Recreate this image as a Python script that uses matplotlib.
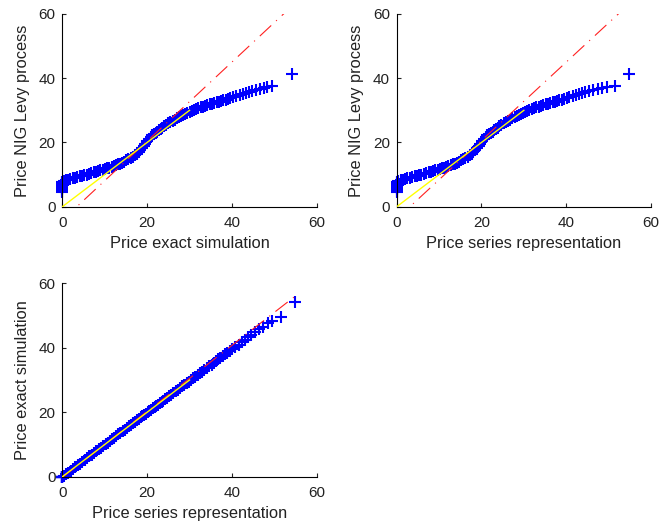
"""Q-Q plots of the simulated option prices: NIG Levy process vs exact simulation
vs series representation."""

import matplotlib

matplotlib.use("Agg")
import matplotlib.pyplot as plt

# sorted price quantiles of the three samples (same probability levels)
price_nig = [
    4.6, 5.0, 5.4, 5.9, 6.4, 6.9, 7.3, 7.7,
    8.0, 8.2, 8.4, 8.6, 8.8, 9.0, 9.2, 9.4, 9.6, 9.8, 10.0, 10.3, 10.5, 10.7, 10.9, 11.1, 11.3, 11.5,
    11.7, 11.9, 12.2, 12.4, 12.7, 12.9, 13.2, 13.4, 13.7, 14.0, 14.4, 14.7, 15.1, 15.5, 16.0, 16.5,
    17.0, 17.6, 18.2, 18.9, 19.6, 20.4, 21.1, 21.7, 22.2, 22.6, 23.0, 23.4, 23.8, 24.2, 24.6,
    25.0, 25.4, 25.9, 26.3, 26.7, 27.1, 27.5, 27.9, 28.3, 28.6, 28.9, 29.2,
    29.5, 29.8, 30.1, 30.4, 30.6, 30.9, 31.1, 31.4, 31.6, 31.9, 32.1, 32.3, 32.5, 32.7, 32.9, 33.1,
    33.3, 33.6, 33.8, 34.1,
    34.4, 34.7, 35.0, 35.3, 35.6, 35.9, 36.3, 36.6, 36.9, 37.2, 37.5, 41.2,
]
price_exact = [
    0.0, 0.0, 0.0, 0.0, 0.0, 0.0, 0.0, 0.0,
    0.3, 0.8, 1.3, 1.9, 2.4, 3.0, 3.5, 4.1, 4.6, 5.2, 5.7, 6.3, 6.8, 7.4, 7.9, 8.5, 9.0, 9.6,
    10.1, 10.6, 11.1, 11.6, 12.1, 12.6, 13.1, 13.6, 14.1, 14.6, 15.1, 15.6, 16.1, 16.6, 17.1, 17.6,
    18.0, 18.4, 18.8, 19.2, 19.6, 20.0, 20.4, 20.8, 21.2, 21.6, 22.0, 22.4, 22.8, 23.2, 23.6,
    24.0, 24.5, 25.0, 25.5, 26.0, 26.5, 27.0, 27.5, 28.0, 28.5, 29.0, 29.5,
    30.0, 30.5, 31.0, 31.6, 32.1, 32.6, 33.2, 33.7, 34.2, 34.8, 35.3, 35.8, 36.4, 36.9, 37.4, 38.0,
    38.5, 39.0, 39.6, 40.2,
    41.0, 41.8, 42.5, 43.2, 44.0, 44.8, 45.7, 46.6, 47.6, 48.3, 49.4, 54.2,
]
price_series = [
    0.0, 0.0, 0.0, 0.0, 0.0, 0.0, 0.0, 0.0,
    0.4, 0.9, 1.4, 2.0, 2.5, 3.1, 3.6, 4.2, 4.7, 5.3, 5.8, 6.4, 6.9, 7.5, 8.0, 8.6, 9.1, 9.7,
    10.2, 10.7, 11.2, 11.7, 12.2, 12.7, 13.2, 13.7, 14.2, 14.7, 15.2, 15.7, 16.2, 16.7, 17.2, 17.7,
    18.1, 18.5, 18.9, 19.3, 19.7, 20.1, 20.5, 21.0, 21.4, 21.8, 22.2, 22.6, 23.0, 23.4, 23.8,
    24.2, 24.7, 25.2, 25.7, 26.2, 26.7, 27.2, 27.8, 28.3, 28.8, 29.3, 29.8,
    30.3, 30.8, 31.3, 31.9, 32.4, 32.9, 33.5, 34.0, 34.6, 35.2, 35.7, 36.2, 36.8, 37.3, 37.8, 38.4,
    38.9, 39.5, 40.1, 40.7,
    41.6, 42.3, 43.0, 43.7, 44.5, 45.4, 46.4, 47.4, 48.4, 49.5, 51.6, 54.9,
]

# reference lines (quartile fit, dash-dot) and the y = x segment
fit_nig_exact_x = [0.0, 54.2]
fit_nig_exact_y = [-4.2, 62.5]
fit_nig_series_x = [0.0, 54.9]
fit_nig_series_y = [-3.8, 63.2]
fit_exact_series_x = [0.0, 54.9]
fit_exact_series_y = [-0.2, 56.0]
diag_x = [0.0, 30.0]
diag_y = [0.0, 30.0]

TICKS = [0, 20, 40, 60]

plt.rcParams["font.family"] = ["Liberation Sans", "DejaVu Sans"]
plt.rcParams["font.size"] = 11


def qq_panel(ax, x, y, fit_x, fit_y, xlabel, ylabel):
    ax.plot(x, y, "+", color="#0000ff", markersize=9, markeredgewidth=1.5, clip_on=False, zorder=2)
    ax.plot(fit_x, fit_y, color="#ff2020", lw=0.8, dashes=(14, 6, 1, 6), zorder=3)
    ax.plot(diag_x, diag_y, color="#ffff00", lw=1.0, zorder=4)
    ax.set_xlim(0, 60)
    ax.set_ylim(0, 60)
    ax.set_xticks(TICKS)
    ax.set_yticks(TICKS)
    ax.spines["top"].set_visible(False)
    ax.spines["right"].set_visible(False)
    for side in ("left", "bottom"):
        ax.spines[side].set_linewidth(0.8)
    ax.tick_params(direction="in", length=3, width=0.8, labelsize=11, colors="#222222")
    ax.tick_params(axis="x", pad=7)
    ax.tick_params(axis="y", pad=5)
    ax.set_xlabel(xlabel, fontsize=11.8, labelpad=4, color="#222222")
    ax.set_ylabel(ylabel, fontsize=11.8, labelpad=6, color="#222222")


def main() -> None:
    fig = plt.figure(figsize=(6.61, 5.27), dpi=100)
    ax1 = fig.add_axes([0.0943, 0.6078, 0.3849, 0.3657])
    ax2 = fig.add_axes([0.6002, 0.6078, 0.3847, 0.3657])
    ax3 = fig.add_axes([0.0943, 0.0954, 0.3849, 0.3670])

    qq_panel(ax1, price_exact, price_nig, fit_nig_exact_x, fit_nig_exact_y,
             "Price exact simulation", "Price NIG Levy process")
    qq_panel(ax2, price_series, price_nig, fit_nig_series_x, fit_nig_series_y,
             "Price series representation", "Price NIG Levy process")
    qq_panel(ax3, price_series, price_exact, fit_exact_series_x, fit_exact_series_y,
             "Price series representation", "Price exact simulation")

    fig.savefig("out.png", dpi=100)
    plt.close(fig)


if __name__ == "__main__":
    main()
